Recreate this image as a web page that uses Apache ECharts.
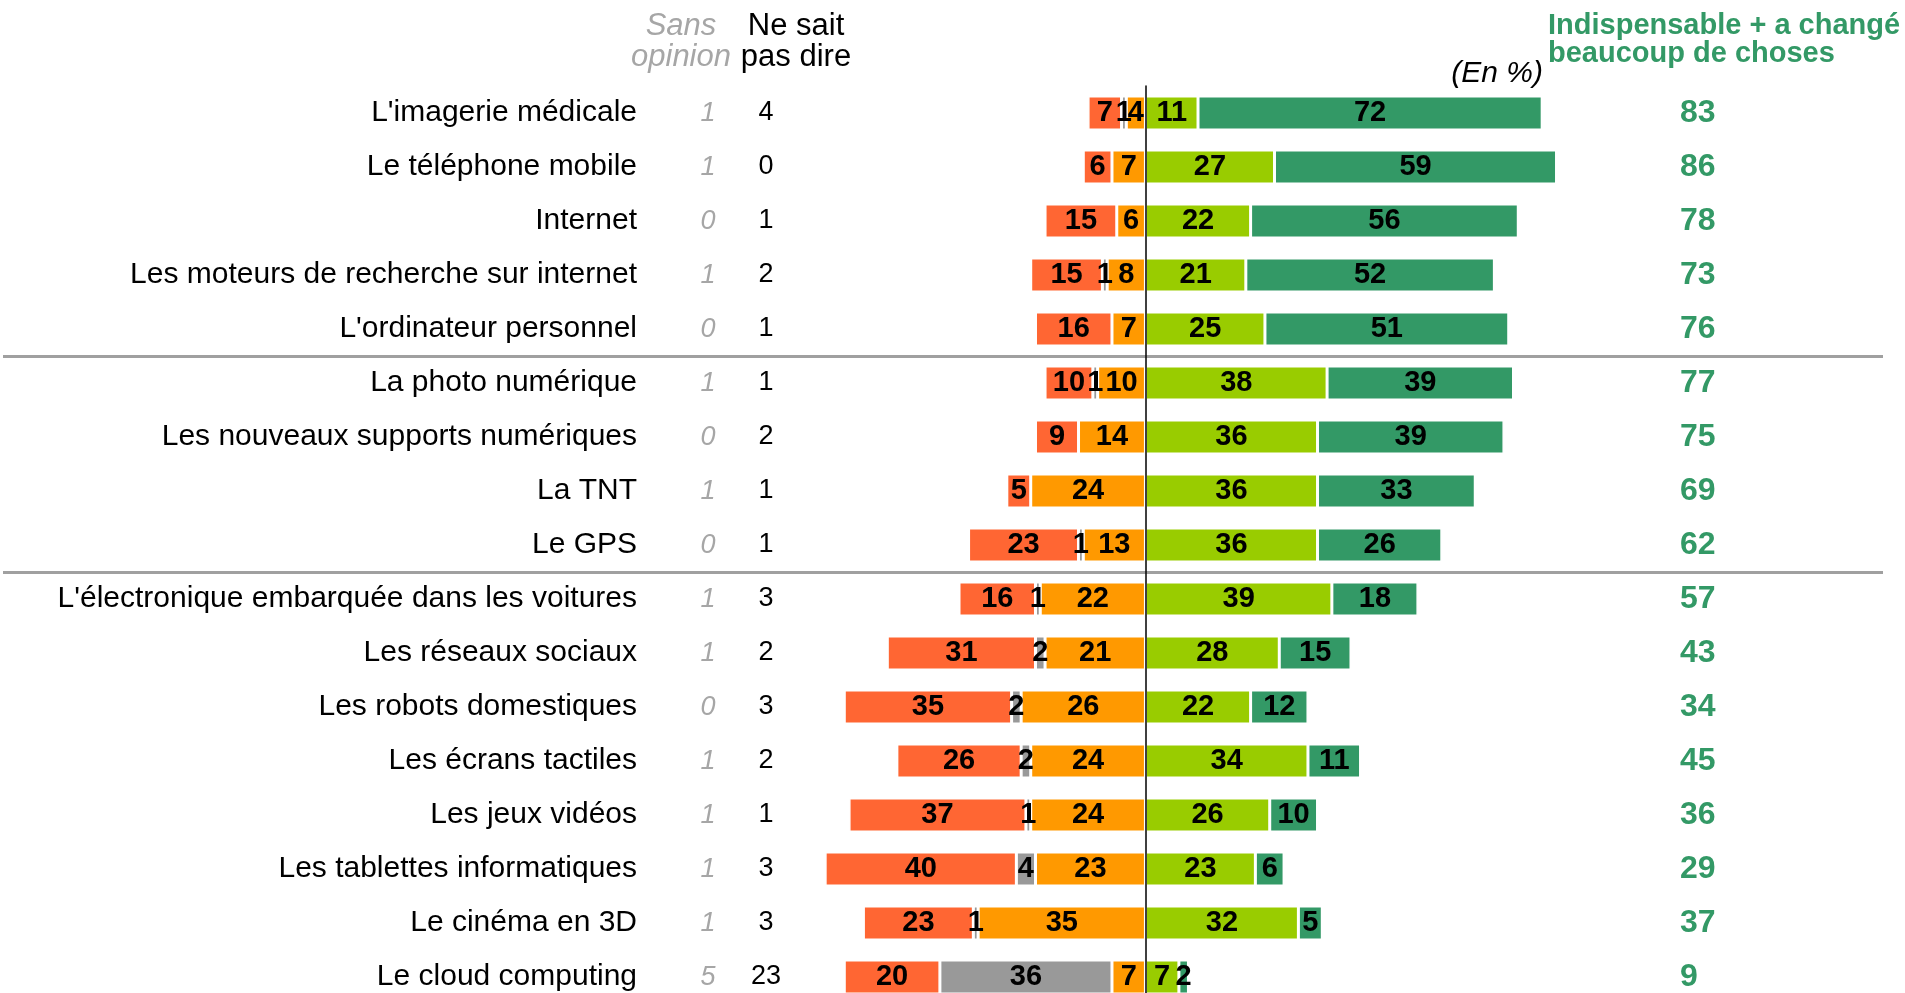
<!DOCTYPE html>
<html>
<head>
<meta charset="utf-8">
<title>Technologies</title>
<script src="https://cdn.jsdelivr.net/npm/echarts@6/dist/echarts.min.js"></script>
<style>
    html, body { margin: 0; padding: 0; background: #fff; }
    #main { width: 1905px; height: 993px; }
</style>
</head>
<body>
<div id="main"></div>
<script type="text/javascript">
    // data (en %)
    var categories = ["L'imagerie médicale", "Le téléphone mobile", "Internet", "Les moteurs de recherche sur internet",
        "L'ordinateur personnel", "La photo numérique", "Les nouveaux supports numériques", "La TNT", "Le GPS",
        "L'électronique embarquée dans les voitures", "Les réseaux sociaux", "Les robots domestiques",
        "Les écrans tactiles", "Les jeux vidéos", "Les tablettes informatiques", "Le cinéma en 3D", "Le cloud computing"];
    var sansOpinion = [1, 1, 0, 1, 0, 1, 0, 1, 0, 1, 1, 0, 1, 1, 1, 1, 5];
    var neSaitPasDire = [4, 0, 1, 2, 1, 1, 2, 1, 1, 3, 2, 3, 2, 1, 3, 3, 23];
    var rouge = [7, 6, 15, 15, 16, 10, 9, 5, 23, 16, 31, 35, 26, 37, 40, 23, 20];
    var gris = [1, 0, 0, 1, 0, 1, 0, 0, 1, 1, 2, 2, 2, 1, 4, 1, 36];
    var orange = [4, 7, 6, 8, 7, 10, 14, 24, 13, 22, 21, 26, 24, 24, 23, 35, 7];
    var vertClair = [11, 27, 22, 21, 25, 38, 36, 36, 36, 39, 28, 22, 34, 26, 23, 32, 7];
    var vertFonce = [72, 59, 56, 52, 51, 39, 39, 33, 26, 18, 15, 12, 11, 10, 6, 5, 2];
    var totaux = [83, 86, 78, 73, 76, 77, 75, 69, 62, 57, 43, 34, 45, 36, 29, 37, 9];

    var font = "'Liberation Sans', Arial, sans-serif";

    function neg(arr) { return arr.map(function (v) { return v ? -v : null; }); }
    function pos(arr) { return arr.map(function (v) { return v ? v : null; }); }

    function barSerie(name, data, color) {
        return {
            name: name,
            type: 'bar',
            stack: 'total',
            barWidth: 34,
            data: data,
            itemStyle: { color: color, borderColor: '#fff', borderWidth: 1.5 },
            label: {
                show: true,
                position: 'inside',
                color: '#000',
                fontFamily: font,
                fontSize: 29,
                fontWeight: 'bold',
                formatter: function (p) { return p.value ? Math.abs(p.value) : ''; }
            },
            emphasis: { disabled: true },
            silent: true
        };
    }

    function labelAxis(position, offset, values, style) {
        var axisLabel = { interval: 0, margin: 0, fontFamily: font };
        for (var k in style) axisLabel[k] = style[k];
        axisLabel.formatter = function (v, i) { return String(values[i]); };
        return {
            type: 'category',
            data: categories,
            inverse: true,
            position: position,
            offset: offset,
            axisLine: { show: false, onZero: false },
            axisTick: { show: false },
            splitLine: { show: false },
            axisLabel: axisLabel
        };
    }

    var myChart = echarts.init(document.getElementById('main'));
    var option = {
        animation: false,
        grid: { left: 3, right: 22, top: 86, height: 918, containLabel: false, outerBoundsMode: 'none' },
        xAxis: { type: 'value', min: -239, max: 154.3, show: false },
        yAxis: [
            {
                type: 'category',
                data: categories,
                inverse: true,
                z: 5,
                axisLine: { show: true, onZero: true, lineStyle: { color: '#000', width: 1.5 } },
                axisTick: { show: false },
                axisLabel: { show: false },
                splitLine: {
                    show: true,
                    showMinLine: false,
                    showMaxLine: false,
                    // separators before "La photo numérique" and "L'électronique embarquée"
                    interval: function (i) { return i === 0 || i === 5 || i === 9; },
                    lineStyle: { color: '#a0a0a0', width: 3 }
                }
            },
            labelAxis('left', -634, categories, { align: 'right', color: '#000', fontSize: 30, padding: [9, 0, 0, 0] }),
            labelAxis('left', -705, sansOpinion, { align: 'center', color: '#a6a6a6', fontSize: 27, fontStyle: 'italic', padding: [0, 0, 10, 0] }),
            labelAxis('left', -763, neSaitPasDire, { align: 'center', color: '#000', fontSize: 27, padding: [0, 0, 10, 0] }),
            labelAxis('right', -203, totaux, { align: 'left', color: '#339966', fontSize: 32, fontWeight: 'bold', padding: [3, 0, 0, 0] })
        ],
        graphic: [
            { type: 'text', x: 681, y: 11, style: { text: 'Sans\nopinion', fill: '#a6a6a6', font: 'italic 31px ' + font, align: 'center', verticalAlign: 'top', lineHeight: 31 } },
            { type: 'text', x: 796, y: 11, style: { text: 'Ne sait\npas dire', fill: '#000', font: '31px ' + font, align: 'center', verticalAlign: 'top', lineHeight: 31 } },
            { type: 'text', x: 1543, y: 74, style: { text: '(En %)', fill: '#000', font: 'italic 30px ' + font, align: 'right', verticalAlign: 'middle' } },
            { type: 'text', x: 1548, y: 12, style: { text: 'Indispensable + a changé\nbeaucoup de choses', fill: '#339966', font: 'bold 29px ' + font, align: 'left', verticalAlign: 'top', lineHeight: 28 } }
        ],
        series: [
            barSerie('Peu de choses', neg(orange), '#FF9900'),
            barSerie('Ne connaît pas', neg(gris), '#999999'),
            barSerie('Rien changé', neg(rouge), '#FF6633'),
            barSerie('Important', pos(vertClair), '#99CC00'),
            barSerie('Indispensable', pos(vertFonce), '#339966')
        ]
    };
    myChart.setOption(option);
</script>
</body>
</html>
